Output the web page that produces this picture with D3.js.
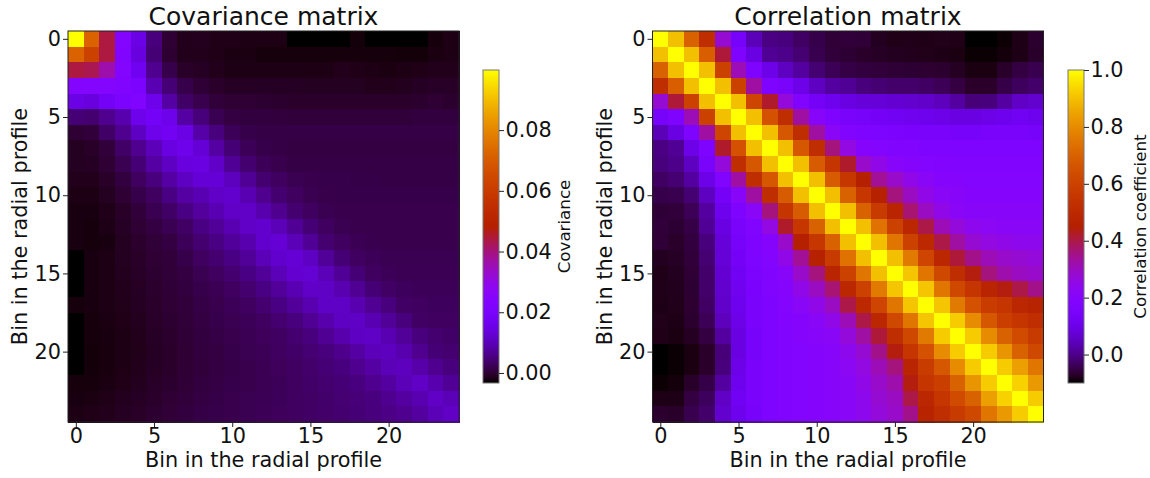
<!DOCTYPE html>
<html>
<head>
<meta charset="utf-8">
<script src="https://cdn.jsdelivr.net/npm/d3@7/dist/d3.min.js"></script>
<style>
  body { margin: 0; background: #fff; }
  svg { font-family: 'DejaVu Sans', sans-serif; }
</style>
</head>
<body>
<svg id="chart" width="1150" height="478"></svg>
<script>
// bin indices shown on both axes
var bins = [0,1,2,3,4,5,6,7,8,9,10,11,12,13,14,15,16,17,18,19,20,21,22,23,24];
var binTicks = [0, 5, 10, 15, 20];
var covTicks = [0.00, 0.02, 0.04, 0.06, 0.08];
var corrTicks = [0.0, 0.2, 0.4, 0.6, 0.8, 1.0];
var covRange = [-0.0033, 0.0998];
var corrRange = [-0.1, 1.0];

// covariance
var covariance = [
  [0.0998,0.072,0.044,0.024,0.015,0.005,0.0,-0.0015,-0.0013,-0.0018,-0.0018,-0.002,-0.002,-0.002,-0.0033,-0.0033,-0.0033,-0.0033,-0.0027,-0.0033,-0.0033,-0.0033,-0.0033,-0.0025,-0.002],
  [0.072,0.062,0.044,0.023,0.014,0.0045,-0.0001,-0.0015,-0.0015,-0.0018,-0.0022,-0.0022,-0.0025,-0.0025,-0.0025,-0.0025,-0.0025,-0.0025,-0.0025,-0.0025,-0.0025,-0.0027,-0.0027,-0.0022,-0.002],
  [0.044,0.043,0.036,0.024,0.017,0.0065,0.0015,-0.0007,-0.001,-0.0015,-0.002,-0.002,-0.002,-0.002,-0.002,-0.002,-0.002,-0.0015,-0.0018,-0.002,-0.0022,-0.002,-0.0018,-0.0015,-0.0015],
  [0.024,0.024,0.024,0.023,0.021,0.0095,0.0045,0.0015,0.0002,-0.0005,-0.001,-0.001,-0.001,-0.001,-0.001,-0.0012,-0.0012,-0.0012,-0.0012,-0.0015,-0.0015,-0.0013,-0.001,-0.0008,-0.0008],
  [0.015,0.014,0.018,0.021,0.0225,0.016,0.008,0.0034,0.0017,0.0005,0.0,0.0,-0.0002,-0.0003,-0.0005,-0.0005,-0.0005,-0.0005,-0.0005,-0.0005,-0.0005,-0.0005,-0.0003,0.0,-0.0003],
  [0.0045,0.004,0.0065,0.009,0.016,0.018,0.016,0.008,0.0048,0.002,0.001,0.0007,0.0007,0.0006,0.0005,0.0005,0.0005,0.0005,0.0005,0.0005,0.0005,0.0005,0.0007,0.0008,0.0008],
  [0.0,0.0005,0.0034,0.0065,0.011,0.016,0.0175,0.015,0.0085,0.005,0.0025,0.0015,0.0012,0.0012,0.0012,0.0012,0.0012,0.0012,0.0012,0.0012,0.0012,0.0012,0.0012,0.0012,0.0012],
  [-0.0012,-0.0007,0.0005,0.0034,0.0065,0.01,0.0145,0.016,0.013,0.008,0.0045,0.0025,0.0015,0.0012,0.001,0.001,0.001,0.001,0.001,0.001,0.001,0.001,0.001,0.001,0.001],
  [-0.0012,-0.001,0.0,0.002,0.0045,0.008,0.011,0.014,0.0145,0.0115,0.007,0.004,0.0025,0.0018,0.0012,0.0012,0.0012,0.0012,0.0012,0.0012,0.0012,0.0012,0.0012,0.0012,0.0012],
  [-0.0015,-0.0015,-0.0007,0.0008,0.003,0.005,0.008,0.011,0.013,0.013,0.0105,0.007,0.004,0.003,0.002,0.0018,0.0015,0.0015,0.0014,0.0014,0.0013,0.0013,0.0013,0.0013,0.0013],
  [-0.002,-0.002,-0.0012,0.0,0.0015,0.003,0.0055,0.008,0.0095,0.0115,0.012,0.0095,0.0065,0.004,0.003,0.002,0.0016,0.0015,0.0015,0.0015,0.0015,0.0015,0.0015,0.0015,0.0015],
  [-0.0023,-0.0023,-0.0017,-0.0007,0.0005,0.002,0.0034,0.0055,0.0075,0.0095,0.0115,0.0115,0.009,0.0065,0.004,0.003,0.002,0.0017,0.0017,0.0017,0.0017,0.0017,0.0017,0.0017,0.0017],
  [-0.0023,-0.0025,-0.0019,-0.0009,0.0,0.001,0.002,0.0033,0.0055,0.0072,0.0095,0.0115,0.012,0.0098,0.007,0.0045,0.003,0.002,0.0018,0.0017,0.0017,0.0017,0.0017,0.0017,0.0017],
  [-0.0023,-0.0025,-0.0023,-0.0012,-0.0004,0.0004,0.001,0.0025,0.004,0.0055,0.0073,0.009,0.012,0.0128,0.0098,0.007,0.004,0.003,0.0022,0.0019,0.0018,0.0018,0.0018,0.0018,0.0018],
  [-0.0033,-0.0023,-0.002,-0.0012,-0.0007,0.0,0.0005,0.0015,0.003,0.004,0.0055,0.0072,0.0098,0.012,0.0128,0.011,0.0072,0.0045,0.003,0.0025,0.002,0.002,0.002,0.002,0.002],
  [-0.0033,-0.0023,-0.002,-0.0014,-0.0008,-0.0002,0.0004,0.001,0.002,0.003,0.004,0.0055,0.0072,0.0098,0.0125,0.0127,0.0098,0.007,0.0045,0.003,0.0025,0.0022,0.0022,0.0022,0.0022],
  [-0.0033,-0.0023,-0.002,-0.0015,-0.001,-0.0004,0.0002,0.0007,0.0015,0.0022,0.003,0.004,0.0055,0.0073,0.0095,0.0115,0.0113,0.0092,0.0068,0.0045,0.0033,0.0028,0.0025,0.0025,0.0025],
  [-0.0025,-0.0023,-0.002,-0.0016,-0.0011,-0.0005,0.0,0.0005,0.0012,0.0018,0.0025,0.003,0.004,0.0055,0.0073,0.0093,0.0113,0.0113,0.0092,0.0068,0.005,0.0033,0.003,0.0028,0.0028],
  [-0.0033,-0.0025,-0.0022,-0.0018,-0.0013,-0.0007,-0.0002,0.0004,0.001,0.0015,0.002,0.0025,0.003,0.004,0.005,0.0068,0.0088,0.011,0.0113,0.0095,0.0072,0.005,0.0033,0.003,0.003],
  [-0.0033,-0.0026,-0.0023,-0.002,-0.0015,-0.0009,-0.0004,0.0002,0.0008,0.0012,0.0017,0.0022,0.0027,0.0032,0.004,0.005,0.0068,0.0088,0.011,0.0113,0.0095,0.0072,0.005,0.004,0.0035],
  [-0.0033,-0.0027,-0.0024,-0.002,-0.0016,-0.001,-0.0005,0.0,0.0006,0.001,0.0015,0.002,0.0024,0.003,0.0035,0.0042,0.005,0.0063,0.008,0.01,0.0105,0.009,0.0065,0.0045,0.004],
  [-0.0033,-0.0027,-0.0024,-0.002,-0.0015,-0.001,-0.0005,0.0,0.0005,0.001,0.0014,0.0018,0.0022,0.0027,0.0032,0.0038,0.0045,0.0052,0.0065,0.008,0.0098,0.0105,0.0087,0.0065,0.005],
  [-0.0026,-0.0025,-0.0022,-0.0018,-0.0014,-0.0008,-0.0003,0.0002,0.0007,0.0011,0.0015,0.0018,0.0022,0.0025,0.003,0.0035,0.004,0.0045,0.0052,0.0065,0.0078,0.0098,0.0112,0.009,0.007],
  [-0.0023,-0.0022,-0.0018,-0.0014,-0.001,-0.0005,0.0,0.0005,0.001,0.0014,0.0017,0.002,0.0023,0.0026,0.003,0.0033,0.0037,0.0042,0.0047,0.0052,0.0065,0.0078,0.0093,0.0112,0.0098],
  [-0.002,-0.0018,-0.0015,-0.0011,-0.0007,-0.0002,0.0003,0.0008,0.0012,0.0015,0.0018,0.0021,0.0024,0.0027,0.003,0.0033,0.0036,0.004,0.0045,0.005,0.0058,0.0065,0.0078,0.0098,0.0112]
];

// correlation coefficients
var correlation = [
  [1.0,0.9,0.7,0.52,0.28,0.14,0.04,-0.005,-0.01,-0.03,-0.048,-0.062,-0.06,-0.062,-0.078,-0.084,-0.083,-0.085,-0.082,-0.084,-0.1,-0.1,-0.097,-0.085,-0.068],
  [0.9,1.0,0.9,0.69,0.41,0.17,0.09,0.01,0.0,-0.02,-0.045,-0.06,-0.065,-0.07,-0.074,-0.078,-0.08,-0.082,-0.085,-0.088,-0.098,-0.098,-0.093,-0.085,-0.072],
  [0.7,0.9,1.0,0.9,0.6,0.31,0.17,0.1,0.05,0.02,-0.02,-0.04,-0.052,-0.057,-0.06,-0.063,-0.065,-0.066,-0.068,-0.076,-0.088,-0.088,-0.072,-0.055,-0.045],
  [0.52,0.69,0.9,1.0,0.9,0.6,0.33,0.17,0.15,0.1,0.05,0.02,0.01,-0.01,-0.02,-0.025,-0.025,-0.03,-0.04,-0.055,-0.07,-0.07,-0.05,-0.035,-0.025],
  [0.28,0.41,0.6,0.9,1.0,0.9,0.61,0.42,0.27,0.175,0.13,0.11,0.09,0.08,0.075,0.07,0.065,0.06,0.045,0.02,-0.015,-0.01,0.02,0.055,0.065],
  [0.14,0.17,0.31,0.6,0.9,1.0,0.9,0.65,0.52,0.33,0.21,0.17,0.15,0.14,0.13,0.12,0.115,0.11,0.1,0.09,0.09,0.1,0.11,0.12,0.11],
  [0.04,0.09,0.17,0.33,0.61,0.9,1.0,0.9,0.67,0.52,0.33,0.22,0.18,0.17,0.165,0.16,0.155,0.15,0.15,0.145,0.145,0.15,0.15,0.15,0.14],
  [-0.005,0.01,0.1,0.17,0.42,0.65,0.9,1.0,0.9,0.67,0.52,0.36,0.26,0.2,0.19,0.18,0.175,0.17,0.17,0.17,0.17,0.17,0.17,0.17,0.17],
  [-0.01,0.0,0.05,0.15,0.27,0.52,0.67,0.9,1.0,0.9,0.68,0.55,0.42,0.29,0.25,0.21,0.2,0.19,0.185,0.18,0.18,0.18,0.18,0.18,0.18],
  [-0.03,-0.02,0.02,0.1,0.175,0.33,0.52,0.67,0.9,1.0,0.9,0.68,0.56,0.45,0.34,0.29,0.25,0.22,0.2,0.2,0.19,0.19,0.19,0.19,0.19],
  [-0.048,-0.045,-0.02,0.05,0.13,0.21,0.33,0.52,0.68,0.9,1.0,0.9,0.7,0.56,0.46,0.36,0.3,0.25,0.22,0.21,0.2,0.2,0.2,0.2,0.2],
  [-0.062,-0.06,-0.04,0.02,0.11,0.17,0.22,0.36,0.55,0.68,0.9,1.0,0.9,0.7,0.57,0.48,0.37,0.3,0.25,0.22,0.21,0.21,0.21,0.21,0.21],
  [-0.06,-0.065,-0.052,0.01,0.09,0.15,0.18,0.26,0.42,0.56,0.7,0.9,1.0,0.9,0.74,0.6,0.49,0.4,0.31,0.27,0.24,0.23,0.22,0.22,0.22],
  [-0.062,-0.07,-0.057,-0.01,0.08,0.14,0.17,0.2,0.29,0.45,0.56,0.7,0.9,1.0,0.9,0.75,0.6,0.5,0.4,0.33,0.28,0.26,0.25,0.24,0.24],
  [-0.078,-0.074,-0.06,-0.02,0.075,0.13,0.165,0.19,0.25,0.34,0.46,0.57,0.74,0.9,1.0,0.9,0.76,0.61,0.49,0.41,0.35,0.31,0.29,0.28,0.27],
  [-0.084,-0.078,-0.063,-0.025,0.07,0.12,0.16,0.18,0.21,0.29,0.36,0.48,0.6,0.75,0.9,1.0,0.91,0.75,0.62,0.52,0.44,0.36,0.32,0.3,0.29],
  [-0.083,-0.08,-0.065,-0.025,0.065,0.115,0.155,0.175,0.2,0.25,0.3,0.37,0.49,0.6,0.76,0.91,1.0,0.91,0.75,0.62,0.55,0.48,0.44,0.4,0.35],
  [-0.085,-0.082,-0.066,-0.03,0.06,0.11,0.15,0.17,0.19,0.22,0.25,0.3,0.4,0.5,0.61,0.75,0.91,1.0,0.91,0.76,0.65,0.58,0.55,0.49,0.47],
  [-0.082,-0.085,-0.068,-0.04,0.045,0.1,0.15,0.17,0.185,0.2,0.22,0.25,0.31,0.4,0.49,0.62,0.75,0.91,1.0,0.92,0.8,0.67,0.59,0.55,0.52],
  [-0.084,-0.088,-0.076,-0.055,0.02,0.09,0.145,0.17,0.18,0.2,0.21,0.22,0.27,0.33,0.41,0.52,0.62,0.76,0.92,1.0,0.92,0.8,0.7,0.63,0.57],
  [-0.1,-0.098,-0.088,-0.07,-0.015,0.09,0.145,0.17,0.18,0.19,0.2,0.21,0.24,0.28,0.35,0.44,0.55,0.65,0.8,0.92,1.0,0.92,0.82,0.7,0.62],
  [-0.1,-0.098,-0.088,-0.07,-0.01,0.1,0.15,0.17,0.18,0.19,0.2,0.21,0.23,0.26,0.31,0.36,0.48,0.58,0.67,0.8,0.92,1.0,0.92,0.84,0.75],
  [-0.097,-0.093,-0.072,-0.05,0.02,0.11,0.15,0.17,0.18,0.19,0.2,0.21,0.22,0.25,0.29,0.32,0.44,0.55,0.59,0.7,0.82,0.92,1.0,0.93,0.83],
  [-0.085,-0.085,-0.055,-0.035,0.055,0.12,0.15,0.17,0.18,0.19,0.2,0.21,0.22,0.24,0.28,0.3,0.4,0.49,0.55,0.63,0.7,0.84,0.93,1.0,0.92],
  [-0.068,-0.072,-0.045,-0.025,0.065,0.11,0.14,0.17,0.18,0.19,0.2,0.21,0.22,0.24,0.27,0.29,0.35,0.47,0.52,0.57,0.62,0.75,0.83,0.92,1.0]
];

// matplotlib "gnuplot" colormap
function gnuplot(t) {
  t = Math.max(0, Math.min(1, t));
  var r = Math.sqrt(t), g = t * t * t, b = Math.max(0, Math.sin(2 * Math.PI * t));
  return d3.rgb(r * 255, g * 255, b * 255).toString();
}

var svg = d3.select('#chart');
var top0 = 31, size = 391, cbTop = 70, cbBottom = 383, cbW = 16;
var tickFont = '20.8px';

function styleAxis(g) {
  g.select('.domain').remove();
  g.selectAll('.tick line').attr('stroke', '#222').attr('stroke-width', 1);
  g.selectAll('.tick text').attr('font-size', tickFont).attr('fill', '#111')
    .attr('font-family', "'DejaVu Sans', sans-serif");
}

function drawPanel(cfg) {
  var left = cfg.left;
  var x = d3.scaleBand().domain(bins).range([left, left + size]);
  var y = d3.scaleBand().domain(bins).range([top0, top0 + size]);
  var xl = d3.scaleLinear().domain([-0.5, 24.5]).range([left, left + size]);
  var yl = d3.scaleLinear().domain([-0.5, 24.5]).range([top0, top0 + size]);
  var color = d3.scaleSequential(gnuplot).domain(cfg.range);

  var cells = [];
  cfg.matrix.forEach(function(row, i) {
    row.forEach(function(v, j) { cells.push({i: i, j: j, v: v}); });
  });

  var g = svg.append('g');
  g.selectAll('rect.cell')
    .data(cells)
    .enter().append('rect')
      .attr('class', 'cell')
      .attr('shape-rendering', 'crispEdges')
      .attr('x', function(d) { return x(d.j); })
      .attr('y', function(d) { return y(d.i); })
      .attr('width', x.bandwidth() + 0.6)
      .attr('height', y.bandwidth() + 0.6)
      .attr('fill', function(d) { return color(d.v); });

  g.append('rect')
    .attr('x', left).attr('y', top0).attr('width', size).attr('height', size)
    .attr('fill', 'none').attr('stroke', '#222').attr('stroke-width', 1);

  g.append('g')
    .attr('transform', 'translate(0,' + (top0 + size) + ')')
    .call(d3.axisBottom(xl).tickValues(binTicks).tickSize(5).tickPadding(1.5))
    .call(styleAxis);

  g.append('g')
    .attr('transform', 'translate(' + left + ',0)')
    .call(d3.axisLeft(yl).tickValues(binTicks).tickSize(5).tickPadding(2))
    .call(styleAxis);

  g.append('text')
    .attr('x', left + size / 2).attr('y', 25)
    .attr('text-anchor', 'middle').attr('font-size', '25px').attr('fill', '#111')
    .text(cfg.title);

  g.append('text')
    .attr('x', left + size / 2).attr('y', 467)
    .attr('text-anchor', 'middle').attr('font-size', tickFont).attr('fill', '#111')
    .text('Bin in the radial profile');

  g.append('text')
    .attr('transform', 'translate(' + (left - 41) + ',' + (top0 + size / 2) + ') rotate(-90)')
    .attr('text-anchor', 'middle').attr('font-size', tickFont).attr('fill', '#111')
    .text('Bin in the radial profile');

  // colorbar
  var gradId = 'grad-' + cfg.id;
  var grad = svg.append('defs').append('linearGradient')
    .attr('id', gradId).attr('x1', 0).attr('y1', 1).attr('x2', 0).attr('y2', 0);
  d3.range(0, 1.0001, 0.02).forEach(function(t) {
    grad.append('stop').attr('offset', t).attr('stop-color', gnuplot(t));
  });
  var cb = d3.scaleLinear().domain(cfg.range).range([cbBottom, cbTop]);
  g.append('rect')
    .attr('x', cfg.cbLeft).attr('y', cbTop).attr('width', cbW).attr('height', cbBottom - cbTop)
    .attr('fill', 'url(#' + gradId + ')').attr('stroke', '#777').attr('stroke-width', 1);
  g.append('g')
    .attr('transform', 'translate(' + (cfg.cbLeft + cbW) + ',0)')
    .call(d3.axisRight(cb).tickValues(cfg.ticks).tickFormat(d3.format(cfg.fmt)).tickSize(5).tickPadding(1.5))
    .call(styleAxis);
  g.append('text')
    .attr('transform', 'translate(' + cfg.cbLabelX + ',' + ((cbTop + cbBottom) / 2) + ') rotate(-90)')
    .attr('text-anchor', 'middle').attr('font-size', '16.7px').attr('fill', '#111')
    .text(cfg.cbLabel);
}

drawPanel({id: 'cov', left: 68, matrix: covariance, range: covRange, title: 'Covariance matrix',
  cbLeft: 483, ticks: covTicks, fmt: '.2f', cbLabel: 'Covariance', cbLabelX: 570});
drawPanel({id: 'corr', left: 652.5, matrix: correlation, range: corrRange, title: 'Correlation matrix',
  cbLeft: 1068, ticks: corrTicks, fmt: '.1f', cbLabel: 'Correlation coefficient', cbLabelX: 1146});
</script>
</body>
</html>
